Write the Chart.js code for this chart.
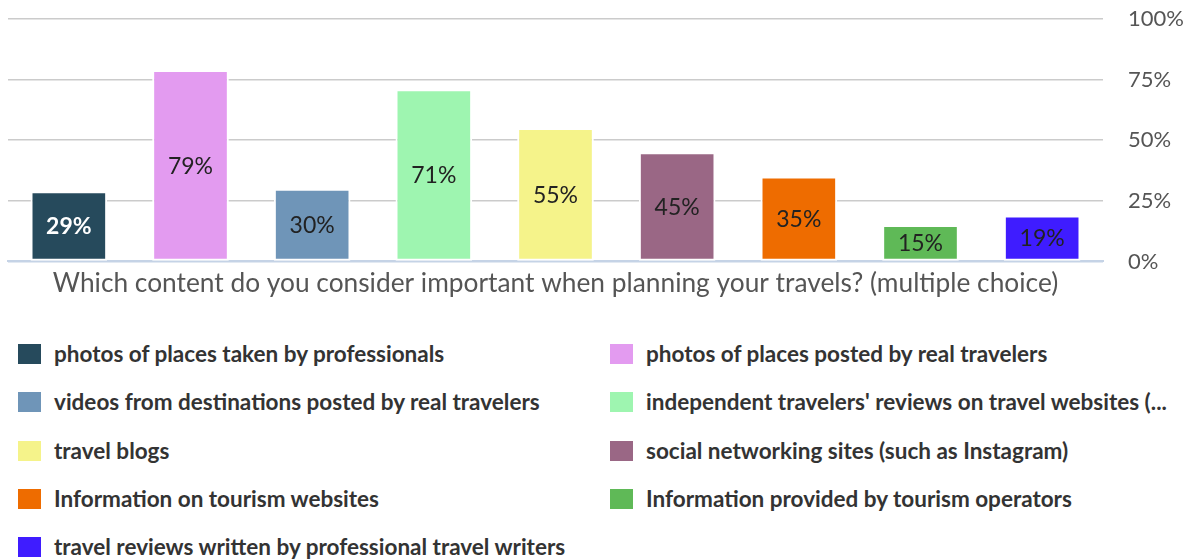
<!DOCTYPE html>
<html>
<head>
<meta charset="utf-8">
<script src="https://cdn.jsdelivr.net/npm/chart.js@4/dist/chart.umd.min.js"></script>
<style>
  html,body{margin:0;padding:0;background:#fff;}
  #wrap{position:relative;width:1200px;height:310px;}
  #legend{position:absolute;left:0;top:330px;width:1200px;font-family:Lato,sans-serif;font-weight:bold;font-size:22.5px;color:#333;}
  .item{position:absolute;height:24px;line-height:24px;white-space:nowrap;}
  .item span.box{position:absolute;left:0;top:2px;width:23px;height:20px;}
  .item span.txt{position:absolute;left:36px;top:0;}
</style>
</head>
<body>
<div id="wrap"><canvas id="chart"></canvas></div>
<div id="legend"></div>
<script>
const categories = ["Which content do you consider important when planning your travels? (multiple choice)"];
const seriesLabels = [
  "photos of places taken by professionals",
  "photos of places posted by real travelers",
  "videos from destinations posted by real travelers",
  "independent travelers' reviews on travel websites (...",
  "travel blogs",
  "social networking sites (such as Instagram)",
  "Information on tourism websites",
  "Information provided by tourism operators",
  "travel reviews written by professional travel writers"
];
const values = [29, 79, 30, 71, 55, 45, 35, 15, 19];
const colors = ["#264a5c","#e39bf0","#6f95b8","#9ef5b0","#f5f38a","#9a6785","#ee6c00","#5fb957","#3f1cff"];
const labelColors = ["#ffffff","#222","#222","#222","#222","#222","#222","#222","#222"];
const yTicks = [0, 25, 50, 75, 100];

const datasets = seriesLabels.map((lab,i)=>({
  label: lab,
  data: [values[i]],
  backgroundColor: colors[i],
  borderColor: "#ffffff",
  borderWidth: 2,
  borderSkipped: false,
  barPercentage: 0.63,
  categoryPercentage: 1
}));

// value labels in the middle of each bar
const barLabels = {
  id: "barLabels",
  afterDatasetsDraw(chart){
    const ctx = chart.ctx;
    ctx.save();
    ctx.textAlign = "center";
    ctx.textBaseline = "middle";
    chart.data.datasets.forEach((ds,i)=>{
      const meta = chart.getDatasetMeta(i);
      meta.data.forEach((bar,j)=>{
        ctx.fillStyle = labelColors[i];
        ctx.font = (i===0 ? "bold " : "") + "23px Lato, sans-serif";
        ctx.fillText(ds.data[j] + "%", bar.x, (bar.y + bar.base)/2 + 1);
      });
    });
    ctx.restore();
  }
};

const chart = new Chart(document.getElementById("chart"), {
  type: "bar",
  data: { labels: categories, datasets },
  plugins: [barLabels],
  options: {
    responsive: true,
    maintainAspectRatio: false,
    animation: false,
    layout: { padding: { left: 8, top: 19, right: 0, bottom: 5 } },
    plugins: { legend: { display: false }, tooltip: { enabled: false } },
    scales: {
      x: {
        grid: { display: false, drawTicks: false },
        border: { color: "#c5d3e6", width: 2 },
        ticks: { color: "#555", padding: 6, font: { family: "Lato", size: 26.3 } }
      },
      y: {
        position: "right",
        min: 0, max: 100,
        afterBuildTicks: s => { s.ticks = yTicks.map(v=>({value:v})); },
        afterFit: s => { s.width = 97; s.paddingTop = 0; s.paddingBottom = 0; },
        border: { display: false },
        grid: {
          drawTicks: false,
          lineWidth: 1.5,
          color: c => c.tick && c.tick.value === 0 ? "#c5d3e6" : "#cbcbcb"
        },
        ticks: {
          color: "#555",
          padding: 25,
          font: { family: "Lato", size: 22 },
          callback: v => v + "%"
        }
      }
    }
  }
});

// legend in two columns, built from the chart's datasets
const legend = document.getElementById("legend");
chart.data.datasets.forEach((ds,i)=>{
  const col = i % 2, row = Math.floor(i / 2);
  const el = document.createElement("div");
  el.className = "item";
  el.style.left = (col === 0 ? 18 : 610) + "px";
  el.style.top = (12 + row * 48.3) + "px";
  el.innerHTML = `<span class="box" style="background:${ds.backgroundColor}"></span><span class="txt">${ds.label}</span>`;
  legend.appendChild(el);
});
</script>
</body>
</html>
